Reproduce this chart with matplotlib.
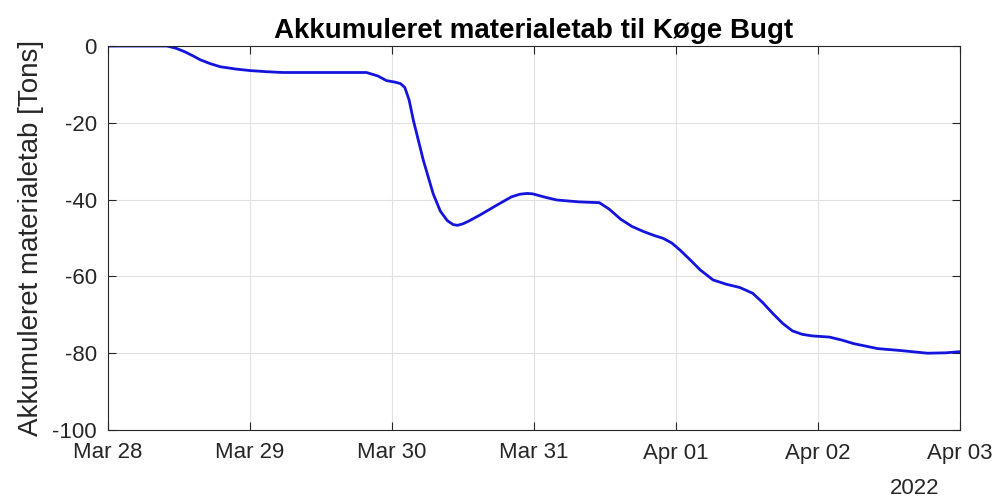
import pandas as pd
import matplotlib
matplotlib.use('Agg')
import matplotlib.pyplot as plt
import matplotlib.dates as mdates

plt.rcParams['font.family'] = ['Liberation Sans', 'DejaVu Sans']
plt.rcParams['axes.unicode_minus'] = False

# time in days after Mar 28 00:00
days = [0, 0.2, 0.415, 0.48, 0.54, 0.6, 0.65, 0.72, 0.79, 0.9, 1.0, 1.12, 1.23, 1.5, 1.82,
        1.9, 1.96, 2.02, 2.06, 2.09, 2.12, 2.15, 2.22, 2.29, 2.34, 2.39, 2.43, 2.46, 2.50, 2.54,
        2.62, 2.74, 2.84, 2.90, 2.95, 2.99, 3.08, 3.16, 3.32, 3.46, 3.53, 3.61, 3.69, 3.77,
        3.85, 3.91, 3.97, 4.03, 4.1, 4.17, 4.26, 4.35, 4.45, 4.54, 4.61, 4.68, 4.75, 4.82,
        4.89, 4.96, 5.08, 5.17, 5.25, 5.42, 5.58, 5.77, 5.9, 6.0]
loss = [0, 0, 0, -0.6, -1.5, -2.6, -3.6, -4.6, -5.4, -6.0, -6.4, -6.7, -6.9, -6.9, -6.9,
        -7.8, -9.0, -9.4, -9.8, -10.8, -14.0, -19.3, -29.7, -38.5, -43.0, -45.5, -46.5, -46.7,
        -46.3, -45.6, -44.0, -41.4, -39.3, -38.6, -38.4, -38.5, -39.4, -40.1, -40.6, -40.8,
        -42.5, -45.1, -47.0, -48.3, -49.4, -50.1, -51.3, -53.2, -55.7, -58.3, -60.9, -62.0,
        -62.9, -64.4, -66.8, -69.6, -72.2, -74.2, -75.1, -75.5, -75.8, -76.6, -77.5, -78.8,
        -79.3, -80.0, -79.9, -79.6]

t = pd.Timestamp('2022-03-28') + pd.to_timedelta(days, unit='D')

fig = plt.figure(figsize=(10.04, 5.0), dpi=100)
ax = fig.add_axes([0.1076, 0.14, 0.8486, 0.768])
ax.plot(t, loss, color='#1414dc', linewidth=2)

ax.set_xlim(pd.Timestamp('2022-03-28'), pd.Timestamp('2022-04-03'))
ax.set_ylim(-100, 0)
ax.set_yticks(range(-100, 1, 20))
ax.xaxis.set_major_locator(mdates.DayLocator())
ax.xaxis.set_major_formatter(mdates.DateFormatter('%b %d'))

ax.grid(True, color='#e0e0e0', linewidth=0.8)
ax.tick_params(direction='in', top=True, right=True, length=6, colors='#262626',
               labelsize=16)
ax.tick_params(axis='x', pad=9)
ax.tick_params(axis='y', pad=8)
for s in ax.spines.values():
    s.set_color('#262626')
    s.set_linewidth(0.8)

ax.set_title('Akkumuleret materialetab til Køge Bugt', fontsize=20, fontweight='bold', pad=6)
ax.set_ylabel('Akkumuleret materialetab [Tons]', fontsize=20, color='#262626', labelpad=6)
fig.text(0.936, 0.024, '2022', fontsize=16, color='#262626', ha='right', va='center')

fig.savefig('out.png', dpi=100)
